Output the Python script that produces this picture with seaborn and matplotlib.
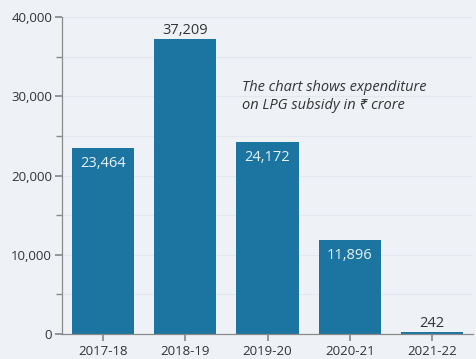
import matplotlib
matplotlib.use("Agg")
import matplotlib.pyplot as plt
import seaborn as sns
import pandas as pd
from matplotlib.ticker import MultipleLocator, FuncFormatter

years = ["2017-18", "2018-19", "2019-20", "2020-21", "2021-22"]
values = [23464, 37209, 24172, 11896, 242]
label_inside = [True, False, True, True, False]

sns.set_theme(style="whitegrid")
plt.rcParams['font.family'] = ['Open Sans', 'Noto Sans', 'DejaVu Sans']

bg = "#eef2f6"
bar_color = "#1b75a0"
text_color = "#333333"

fig = plt.figure(figsize=(4.76, 3.59), dpi=100, facecolor=bg)
ax = fig.add_axes([0.130, 0.0696, 0.864, 0.883])
ax.set_facecolor(bg)

df = pd.DataFrame({"year": years, "value": values})
sns.barplot(data=df, x="year", y="value", color=bar_color, saturation=1,
            width=0.756, ax=ax, linewidth=0, edgecolor=bar_color)

ax.set_xlim(-0.5, 4.5)
ax.set_ylim(0, 40000)
ax.yaxis.set_major_locator(MultipleLocator(10000))
ax.yaxis.set_minor_locator(MultipleLocator(5000))
ax.yaxis.set_major_formatter(FuncFormatter(lambda v, p: f"{int(v):,}"))
ax.set_xlabel("")
ax.set_ylabel("")

ax.grid(axis="x", visible=False)
ax.grid(axis="y", which="both", color="#e3e8ee", linewidth=0.8)
ax.set_axisbelow(True)

for s in ["top", "right"]:
    ax.spines[s].set_visible(False)
for s in ["left", "bottom"]:
    ax.spines[s].set_visible(True)
    ax.spines[s].set_color("#8a8a8a")
    ax.spines[s].set_linewidth(0.9)

ax.tick_params(axis="y", which="major", length=5, color="#8a8a8a", labelsize=9.5,
               labelcolor=text_color, pad=2, left=True)
ax.tick_params(axis="y", which="minor", length=4, color="#8a8a8a", left=True)
ax.tick_params(axis="x", length=5, color="#8a8a8a", labelsize=9.5,
               labelcolor=text_color, pad=3, bottom=True)

for i, (v, inside) in enumerate(zip(values, label_inside)):
    if inside:
        ax.text(i, v - 1000, f"{v:,}", ha="center", va="top", fontsize=10.5,
                color="#e8f2f8")
    else:
        ax.text(i, v + 200, f"{v:,}", ha="center", va="bottom", fontsize=10.5,
                color=text_color)

ax.text(1.69, 30000, "The chart shows expenditure\non LPG subsidy in \u20b9 crore",
        ha="left", va="center", fontsize=10.5, style="italic", color=text_color,
        linespacing=1.25)

fig.savefig("out.png", dpi=100, facecolor=bg)
